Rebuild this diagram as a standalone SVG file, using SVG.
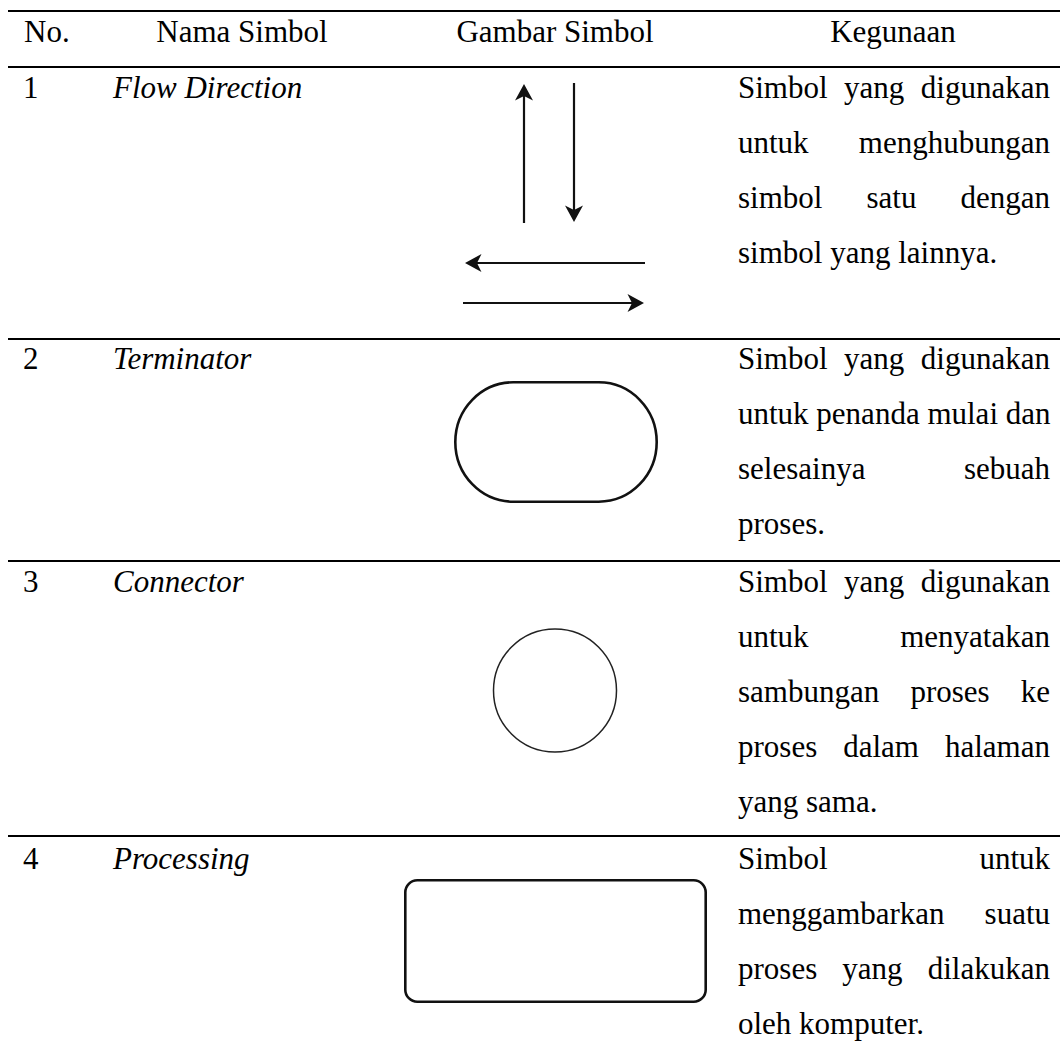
<svg xmlns="http://www.w3.org/2000/svg" width="1060" height="1054" viewBox="0 0 1060 1054">
  <style>
    text { font-family: "Liberation Serif", "Times New Roman", serif; font-size: 31px; fill: #000; }
    .it { font-style: italic; }
    .mid { text-anchor: middle; }
    .end { text-anchor: end; }
    .rule { stroke: #000; stroke-width: 2.2; }
    .arrow { stroke: #111; stroke-width: 2.2; fill: none; marker-end: url(#head); }
    .shape { fill: none; stroke: #111; stroke-width: 2.6; }
  </style>
  <defs>
    <!-- notched arrowhead; the line stops 8px short of the tip -->
    <marker id="head" markerUnits="userSpaceOnUse" viewBox="-9 -10 18 20" markerWidth="18" markerHeight="20" refX="0" refY="0" orient="auto">
      <path d="M8.5,0 L-8,-9 L-3.5,0 L-8,9 Z" fill="#111"/>
    </marker>
  </defs>

  <rect width="1060" height="1054" fill="#fff"/>

  <!-- table rules -->
  <g id="rules">
    <line class="rule" x1="8" y1="11" x2="1060" y2="11"/>
    <line class="rule" x1="8" y1="67" x2="1060" y2="67"/>
    <line class="rule" x1="8" y1="339" x2="1060" y2="339"/>
    <line class="rule" x1="8" y1="561" x2="1060" y2="561"/>
    <line class="rule" x1="8" y1="836" x2="1060" y2="836"/>
  </g>

  <!-- header -->
  <g id="header">
    <text x="24" y="42">No.</text>
    <text class="mid" x="242" y="42">Nama Simbol</text>
    <text class="mid" x="555" y="42">Gambar Simbol</text>
    <text class="mid" x="893" y="42">Kegunaan</text>
  </g>

  <!-- row 1: flow direction -->
  <g id="row-flow-direction">
    <text x="23" y="98">1</text>
    <text class="it" x="113" y="98">Flow Direction</text>
    <text x="738" y="98">Simbol</text>
    <text x="844" y="98">yang</text>
    <text class="end" x="1050" y="98">digunakan</text>
    <text x="738" y="153">untuk</text>
    <text class="end" x="1050" y="153">menghubungan</text>
    <text x="738" y="208">simbol</text>
    <text x="866.5" y="208">satu</text>
    <text class="end" x="1050" y="208">dengan</text>
    <text x="738" y="263">simbol yang lainnya.</text>
  </g>

  <!-- flow direction symbol arrows -->
  <g id="connectors">
    <line class="arrow" x1="524" y1="223" x2="524" y2="92.5"/>
    <line class="arrow" x1="574" y1="83" x2="574" y2="213.5"/>
    <line class="arrow" x1="645" y1="263" x2="473.5" y2="263"/>
    <line class="arrow" x1="463" y1="303" x2="635.5" y2="303"/>
  </g>

  <!-- row 2: terminator -->
  <g id="row-terminator">
    <text x="23" y="369">2</text>
    <text class="it" x="113" y="369">Terminator</text>
    <rect class="shape" x="455.3" y="382.3" width="201.4" height="119.4" rx="58" ry="59.7"/>
    <text x="738" y="369">Simbol</text>
    <text x="844" y="369">yang</text>
    <text class="end" x="1050" y="369">digunakan</text>
    <text x="738" y="424">untuk penanda mulai dan</text>
    <text x="738" y="479">selesainya</text>
    <text class="end" x="1050" y="479">sebuah</text>
    <text x="738" y="534">proses.</text>
  </g>

  <!-- row 3: connector -->
  <g id="row-connector">
    <text x="23" y="592">3</text>
    <text class="it" x="113" y="592">Connector</text>
    <circle cx="555" cy="690.5" r="61.5" fill="none" stroke="#222" stroke-width="1.5"/>
    <text x="738" y="592">Simbol</text>
    <text x="844" y="592">yang</text>
    <text class="end" x="1050" y="592">digunakan</text>
    <text x="738" y="647">untuk</text>
    <text class="end" x="1050" y="647">menyatakan</text>
    <text x="738" y="702">sambungan</text>
    <text x="910.4" y="702">proses</text>
    <text class="end" x="1050" y="702">ke</text>
    <text x="738" y="757">proses</text>
    <text x="843.2" y="757">dalam</text>
    <text class="end" x="1050" y="757">halaman</text>
    <text x="738" y="812">yang sama.</text>
  </g>

  <!-- row 4: processing -->
  <g id="row-processing">
    <text x="23" y="869">4</text>
    <text class="it" x="113" y="869">Processing</text>
    <rect class="shape" x="405.3" y="880.3" width="300.4" height="121.4" rx="12" ry="12"/>
    <text x="738" y="869">Simbol</text>
    <text class="end" x="1050" y="869">untuk</text>
    <text x="738" y="924">menggambarkan</text>
    <text class="end" x="1050" y="924">suatu</text>
    <text x="738" y="979">proses</text>
    <text x="842.3" y="979">yang</text>
    <text class="end" x="1050" y="979">dilakukan</text>
    <text x="738" y="1034">oleh komputer.</text>
  </g>
</svg>
